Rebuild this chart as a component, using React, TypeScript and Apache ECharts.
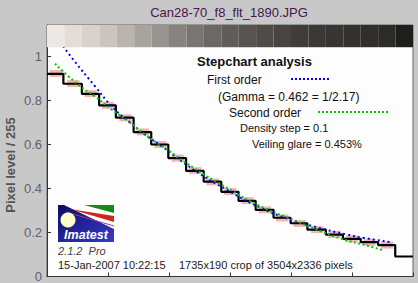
import React, { useEffect, useRef } from "react";
import * as echarts from "echarts";

// Gray step strip (21 patches)
const patchColors = ["#ede8e4","#e3ddd5","#d8d2ca","#cbc5bd","#bab4ae","#a8a39d","#97938e","#87847f","#797672","#6c6964","#605d59","#57534f","#4f4b47","#48443f","#403d39","#3b3935","#373531","#33312e","#302f2b","#2c2b27","#1e1f1b"];

// Measured pixel profile (black step line)
const stepBreaks = [0.94, 2.0, 2.99, 3.95, 4.97, 5.98, 6.96, 7.98, 8.99, 10.0, 10.99, 11.97, 13.0, 13.98, 14.94, 16.0, 16.98, 18.0, 19.0, 19.98];
const stepLevels = [0.921, 0.876, 0.830, 0.778, 0.722, 0.656, 0.600, 0.538, 0.480, 0.431, 0.385, 0.344, 0.303, 0.267, 0.242, 0.213, 0.190, 0.171, 0.156, 0.143, 0.091];

// Patch means (pink boxes)
const patchMeans = [0.923, 0.877, 0.831, 0.778, 0.721, 0.657, 0.600, 0.538, 0.481, 0.430, 0.386, 0.345, 0.303, 0.266, 0.241, 0.213, 0.191, 0.171, 0.156, 0.143];

// First order fit (blue)
const firstOrderX = [0.92, 1.51, 2.76, 3.72, 4.68, 5.64, 6.6, 8.42, 10.34, 12.26, 13.88, 15.32, 17.24, 18.2, 19.83];
const firstOrderY = [1.047, 0.985, 0.864, 0.773, 0.705, 0.644, 0.591, 0.485, 0.393, 0.312, 0.261, 0.227, 0.19, 0.175, 0.155];

// Second order fit (green)
const secondOrderX = [0.46, 1.8, 2.76, 3.72, 4.68, 5.64, 6.69, 8.42, 10.34, 12.26, 13.88, 15.32, 16.86, 18.3, 19.33];
const secondOrderY = [0.967, 0.871, 0.818, 0.758, 0.705, 0.644, 0.588, 0.493, 0.402, 0.318, 0.265, 0.218, 0.172, 0.142, 0.118];

const yTicks = [0, 0.2, 0.4, 0.6, 0.8, 1];
const X_MAX = 21;
const Y_MAX = 1.143;
const STRIP_BOTTOM = 1.042;

const FONT = "'Liberation Sans', Arial, sans-serif";

export default function App() {
  const ref = useRef<HTMLDivElement>(null);
  useEffect(() => {
    if (!ref.current) return;
    const chart = echarts.init(ref.current, null, { renderer: "svg" });

    const stepData: number[][] = [];
    let x0 = 0;
    stepLevels.forEach((lv, i) => {
      const x1 = i < stepBreaks.length ? stepBreaks[i] : X_MAX;
      stepData.push([x0, lv]);
      stepData.push([x1, lv]);
      x0 = x1;
    });

    const txt = (text: string, x: number, y: number, size: number, extra: any = {}) => ({
      type: "text",
      x,
      y,
      silent: true,
      style: {
        text,
        fontFamily: FONT,
        fontSize: size,
        fill: "#111",
        textVerticalAlign: "middle",
        ...extra,
      },
    });

    chart.setOption({
      animation: false,
      backgroundColor: "#c8c8c8",
      grid: {
        left: 47,
        right: 5,
        top: 25,
        bottom: 6,
        show: true,
        backgroundColor: "#fdfdfd",
        borderColor: "#666",
        borderWidth: 1,
      },
      xAxis: {
        type: "value",
        min: 0,
        max: X_MAX,
        interval: 3.5,
        axisLabel: { show: false },
        axisTick: { show: true, inside: true, length: 4, lineStyle: { color: "#333" } },
        axisLine: { show: true, lineStyle: { color: "#333" } },
        splitLine: { show: false },
      },
      yAxis: {
        type: "value",
        min: 0,
        max: Y_MAX,
        interval: 0.2,
        axisLabel: {
          fontFamily: FONT,
          fontSize: 13,
          color: "#5f6070",
          margin: 5,
          formatter: (v: number) => {
            const t = yTicks.find((k) => Math.abs(k - v) < 1e-6);
            return t === undefined ? "" : String(t);
          },
        },
        axisTick: { show: true, inside: true, length: 4, lineStyle: { color: "#333" } },
        axisLine: { show: true, lineStyle: { color: "#333" } },
        splitLine: { show: false },
      },
      series: [
        {
          type: "custom",
          z: 1,
          data: patchMeans.map((m, i) => [i, m]),
          renderItem: (params: any, api: any) => {
            const i = api.value(0);
            const m = api.value(1);
            const p0 = api.coord([i + 0.15, m + 0.016]);
            const p1 = api.coord([i + 0.85, m - 0.016]);
            return {
              type: "rect",
              shape: { x: p0[0], y: p0[1], width: p1[0] - p0[0], height: p1[1] - p0[1] },
              style: { fill: "#f6b4b4" },
            };
          },
        },
        {
          type: "line",
          z: 2,
          data: stepData,
          showSymbol: false,
          lineStyle: { color: "#000", width: 2.2 },
        },
        {
          type: "line",
          z: 3,
          data: firstOrderX.map((x, i) => [x, firstOrderY[i]]),
          smooth: true,
          showSymbol: false,
          lineStyle: { color: "#0000ff", width: 2, type: [2, 3] },
        },
        {
          type: "line",
          z: 3,
          data: secondOrderX.map((x, i) => [x, secondOrderY[i]]),
          smooth: true,
          showSymbol: false,
          lineStyle: { color: "#00c800", width: 2, type: [2, 2.5] },
        },
        {
          type: "custom",
          z: 10,
          clip: false,
          data: patchColors.map((c, i) => [i, i + 1]),
          renderItem: (params: any, api: any) => {
            const i = api.value(0);
            const p0 = api.coord([i, Y_MAX]);
            const p1 = api.coord([i + 1, STRIP_BOTTOM]);
            return {
              type: "rect",
              shape: { x: p0[0], y: p0[1], width: p1[0] - p0[0], height: p1[1] - p0[1] },
              style: { fill: patchColors[i] },
            };
          },
        },
      ],
      graphic: [
        txt("Can28-70_f8_flt_1890.JPG", 229, 12, 13, { textAlign: "center", fill: "#4a1450" }),
        {
          type: "text",
          x: 10,
          y: 165,
          rotation: Math.PI / 2,
          silent: true,
          style: {
            text: "Pixel level / 255",
            fontFamily: FONT,
            fontSize: 13,
            fontWeight: "bold",
            fill: "#555",
            textAlign: "center",
            textVerticalAlign: "middle",
          },
        },
        txt("Stepchart analysis", 197, 61, 13, { fontWeight: "bold" }),
        txt("First order", 207, 80, 12),
        { type: "line", silent: true, shape: { x1: 291, y1: 79, x2: 329, y2: 79 }, style: { stroke: "#0000ff", lineWidth: 2, lineDash: [2, 2] } },
        txt("(Gamma = 0.462 = 1/2.17)", 218, 97, 12),
        txt("Second order", 229, 113, 12),
        { type: "line", silent: true, shape: { x1: 318, y1: 112, x2: 390, y2: 112 }, style: { stroke: "#00c800", lineWidth: 2, lineDash: [2, 2] } },
        txt("Density step = 0.1", 240, 127.5, 11),
        txt("Veiling glare = 0.453%", 252, 143.5, 11),
        // Imatest logo
        {
          type: "rect",
          silent: true,
          shape: { x: 58, y: 205, width: 56, height: 37 },
          style: {
            fill: new echarts.graphic.LinearGradient(0, 0, 1, 1, [
              { offset: 0, color: "#0c0c6a" },
              { offset: 1, color: "#3a3ac8" },
            ]),
          },
        },
        { type: "polygon", silent: true, shape: { points: [[64, 205], [114, 205], [114, 229]] }, style: { fill: "#ffffff" } },
        { type: "polygon", silent: true, shape: { points: [[84, 205], [114, 205], [114, 213]] }, style: { fill: "#168a16" } },
        { type: "polygon", silent: true, shape: { points: [[70, 209], [114, 216], [114, 222]] }, style: { fill: "#d02818" } },
        { type: "line", silent: true, shape: { x1: 66, y1: 212, x2: 114, y2: 226 }, style: { stroke: "#9a3aa0", lineWidth: 1 } },
        { type: "circle", silent: true, shape: { cx: 68, cy: 220, r: 7.5 }, style: { fill: "#ffffcc" } },
        txt("Imatest", 86, 235, 12.5, { textAlign: "center", fill: "#ffffff", fontWeight: "bold", fontStyle: "italic" }),
        txt("2.1.2  Pro", 58, 251, 11, { fill: "#444", fontStyle: "italic" }),
        txt("15-Jan-2007 10:22:15", 58, 265, 11, { fill: "#222" }),
        txt("1735x190 crop of 3504x2336 pixels", 179, 265, 11, { fill: "#222" }),
      ],
    });
    return () => chart.dispose();
  }, []);
  return (
    <div
      ref={ref}
      style={{ position: "absolute", left: 0, top: 0, width: 418, height: 283 }}
    />
  );
}
